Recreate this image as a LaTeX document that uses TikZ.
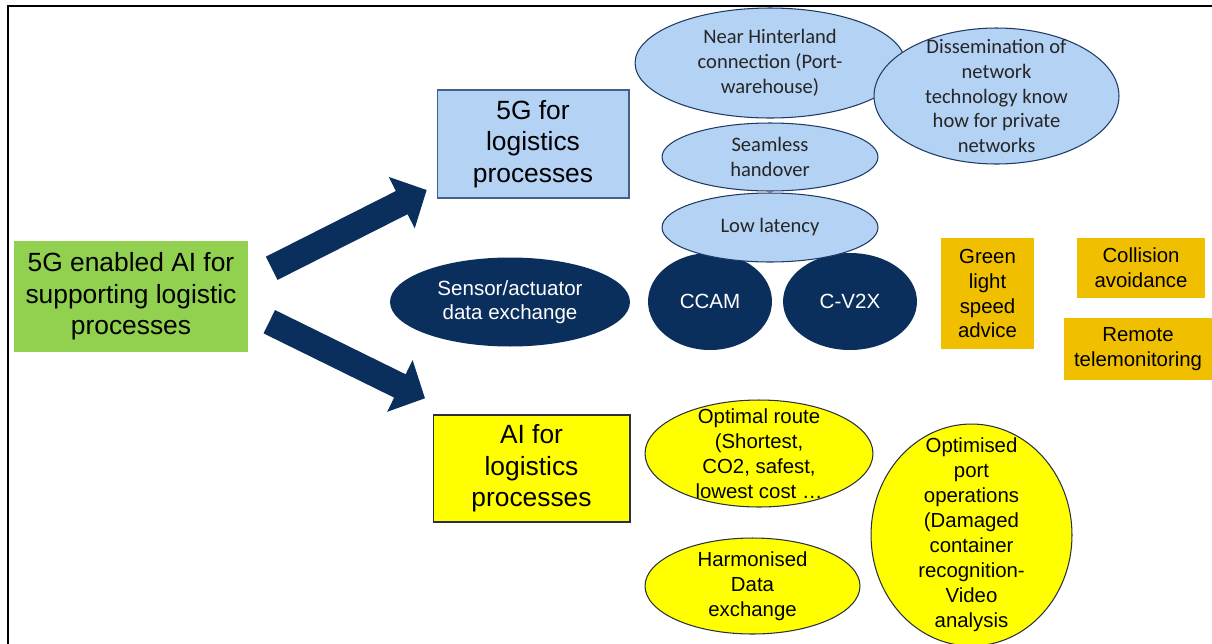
\documentclass[tikz,border=0pt]{standalone}
\usepackage{fontspec}
\setmainfont{Liberation Sans}
\newfontfamily\calibfont{Carlito}
\usetikzlibrary{shapes.geometric,arrows.meta}
\definecolor{navy}{HTML}{0A2F5C}
\definecolor{lblue}{HTML}{B4D2F4}
\definecolor{lbedge}{HTML}{1F3B63}
\definecolor{boxedge}{HTML}{41618A}
\definecolor{greenc}{HTML}{92D050}
\definecolor{goldc}{HTML}{F0C000}
\definecolor{yellowc}{HTML}{FFFF00}
\definecolor{yedge}{HTML}{2A3040}
\definecolor{textgray}{HTML}{262626}
\begin{document}
\begin{tikzpicture}[x=0.02cm,y=-0.02cm,
  lbell/.style={ellipse, draw=lbedge, fill=lblue, line width=0.6pt, inner sep=0pt},
  lbtxt/.style={font=\calibfont\fontsize{11.7}{14.2}\selectfont, text=textgray, align=center},
  navyell/.style={ellipse, fill=navy, inner sep=0pt},
  navytxt/.style={font=\fontsize{11.7}{13.6}\selectfont, text=white, align=center},
  yell/.style={ellipse, draw=yedge, fill=yellowc, line width=0.6pt, inner sep=0pt},
  smalltxt/.style={font=\fontsize{11.6}{14.2}\selectfont, text=black, align=center},
  goldbox/.style={rectangle, fill=goldc, inner sep=0pt, font=\fontsize{11.6}{14.2}\selectfont, align=center},
  bigtxt/.style={font=\fontsize{15}{17.9}\selectfont, align=center, inner sep=0pt},
  bigarrow/.style={draw=navy, line width=0.52cm, -{Triangle[width=1.12cm,length=0.56cm]}}
]
\clip (0,0) rectangle (1212,643);
\fill[white] (0,0) rectangle (1212,643);
% frame
\draw[line width=0.04cm] (8,660) -- (8,6) -- (1220,6);

% main boxes
\node[bigtxt, fill=greenc, minimum width=4.68cm, minimum height=2.22cm] (main) at (131,296.5)
  {5G enabled AI for\\supporting logistic\\processes};
\node[bigtxt, fill=lblue, draw=boxedge, line width=0.6pt, minimum width=3.84cm, minimum height=2.16cm] (fiveg) at (533,144)
  {5G for\\logistics\\processes};
\node[bigtxt, fill=yellowc, draw=yedge, line width=0.6pt, minimum width=3.94cm, minimum height=2.14cm] (ai) at (531.5,468.5)
  {AI for\\logistics\\processes};

% arrows
\coordinate (u0) at (271.7,268.3);
\coordinate (u1) at (426.7,190);
\coordinate (d0) at (269.3,321.7);
\coordinate (d1) at (425,398.3);
\draw[bigarrow] (u0) -- (u1);
\draw[bigarrow] (d0) -- (d1);

% light blue ellipses
\node[lbell, minimum width=5.4cm, minimum height=2.2cm,
  label={[lbtxt]center:{Near Hinterland\\connection (Port-\\warehouse)}}] (hint) at (770,63) {};
\node[lbell, minimum width=4.9cm, minimum height=2.72cm,
  label={[lbtxt]center:{Dissemination of\\network\\technology know\\how for private\\networks}}] (diss) at (996.5,96) {};
\node[lbell, minimum width=4.32cm, minimum height=1.36cm,
  label={[lbtxt]center:{Seamless\\handover}}] (seam) at (770,157) {};

% navy ellipses
\node[navyell, minimum width=4.8cm, minimum height=1.78cm,
  label={[navytxt]center:{Sensor/actuator\\data exchange}}] (sens) at (510,302) {};
\node[navyell, minimum width=2.48cm, minimum height=1.94cm,
  label={[navytxt]center:{CCAM}}] (ccam) at (710,301.5) {};
\node[navyell, minimum width=2.68cm, minimum height=1.94cm,
  label={[navytxt]center:{C-V2X}}] (cv2x) at (850,301.5) {};

\node[lbell, minimum width=4.32cm, minimum height=1.38cm,
  label={[lbtxt]center:{Low latency}}] (lat) at (770,227.5) {};

% gold boxes
\node[goldbox, minimum width=1.86cm, minimum height=2.22cm] (glosa) at (987.5,293.5)
  {Green\\light\\speed\\advice};
\node[goldbox, minimum width=2.56cm, minimum height=1.2cm] (coll) at (1141,268)
  {Collision\\avoidance};
\node[goldbox, minimum width=2.96cm, minimum height=1.24cm] (remote) at (1138,349)
  {Remote\\telemonitoring};

% yellow ellipses
\node[yell, minimum width=4.56cm, minimum height=2.14cm,
  label={[smalltxt]center:{Optimal route\\(Shortest,\\CO2, safest,\\lowest cost …}}] (route) at (759,453.5) {};
\node[yell, minimum width=4.3cm, minimum height=1.92cm,
  label={[smalltxt]center:{Harmonised\\Data\\exchange}}] (harm) at (752.5,586) {};
\node[yell, minimum width=4.02cm, minimum height=4.44cm,
  label={[smalltxt]center:{Optimised\\port\\operations\\(Damaged\\container\\recognition-\\Video\\analysis}}] (port) at (971.5,535) {};
\end{tikzpicture}
\end{document}
